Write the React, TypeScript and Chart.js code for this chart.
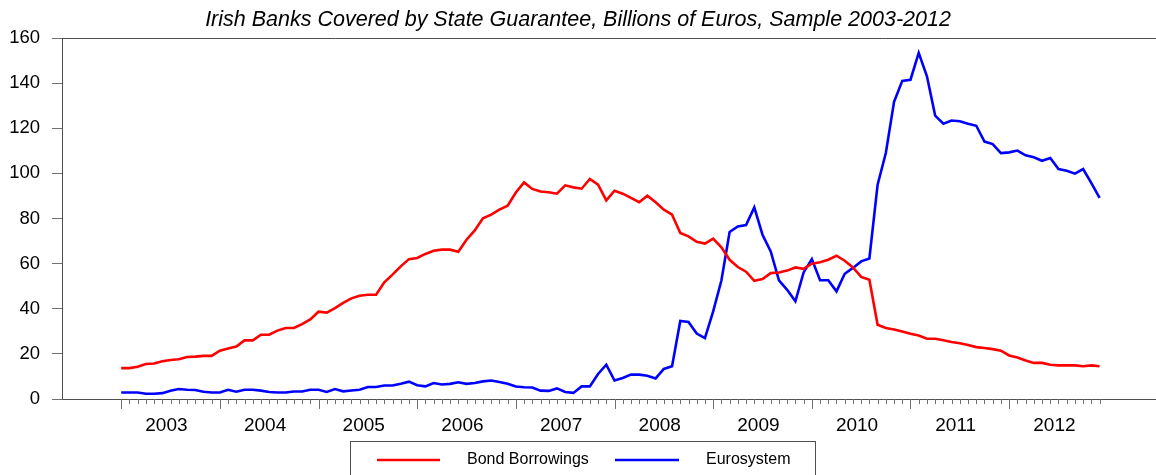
import React, { useEffect, useRef } from "react";
import { Chart, registerables } from "chart.js";

Chart.register(...registerables);

// Monthly observations, Jan 2003 .. Dec 2012 (billions of euros)
const yearLabels = ["2003", "2004", "2005", "2006", "2007", "2008", "2009", "2010", "2011", "2012"];

const bondBorrowings = [
  13.7, 13.7, 14.3, 15.5, 15.7, 16.7, 17.3, 17.6, 18.6, 18.8, 19.1, 19.1,
  21.4, 22.4, 23.3, 26.0, 26.0, 28.5, 28.5, 30.3, 31.5, 31.5, 33.2, 35.3,
  38.7, 38.3, 40.3, 42.6, 44.6, 45.8, 46.2, 46.2, 51.7, 55.1, 58.8, 62.0,
  62.5, 64.3, 65.7, 66.2, 66.2, 65.3, 70.6, 74.7, 80.1, 81.7, 83.9, 85.7,
  91.5, 96.0, 93.1, 92.0, 91.6, 91.0, 94.7, 93.8, 93.2, 97.5, 95.0, 88.0,
  92.3, 91.0, 89.1, 87.2, 90.1, 87.2, 83.9, 81.7, 73.6, 72.1, 69.7, 68.9,
  71.1, 67.2, 61.7, 58.5, 56.4, 52.4, 53.2, 55.8, 56.1, 56.9, 58.3, 57.7,
  60.0, 60.6, 61.7, 63.5, 61.3, 58.3, 54.1, 52.9, 32.9, 31.5, 30.8, 29.9,
  28.9, 28.1, 26.7, 26.7, 26.0, 25.3, 24.7, 23.9, 23.0, 22.6, 22.1, 21.4,
  19.3, 18.4, 17.1, 16.0, 16.0, 15.2, 14.9, 14.9, 14.9, 14.5, 14.9, 14.5,
];

const eurosystem = [
  2.9, 2.9, 2.9, 2.3, 2.3, 2.6, 3.7, 4.4, 4.1, 4.0, 3.2, 2.9,
  2.9, 4.1, 3.2, 4.1, 4.1, 3.7, 3.1, 2.9, 2.9, 3.3, 3.3, 4.1,
  4.1, 3.1, 4.4, 3.4, 3.8, 4.1, 5.3, 5.3, 6.0, 6.0, 6.8, 7.7,
  6.1, 5.6, 7.1, 6.4, 6.7, 7.4, 6.7, 7.1, 7.8, 8.2, 7.5, 6.8,
  5.5, 5.2, 5.1, 3.7, 3.6, 4.7, 3.1, 2.7, 5.6, 5.6, 11.1, 15.2,
  8.2, 9.3, 10.8, 10.8, 10.3, 9.1, 13.3, 14.5, 34.6, 34.1, 29.0, 27.0,
  38.8, 52.5, 74.0, 76.5, 77.1, 84.9, 72.8, 65.4, 52.6, 48.4, 43.3, 56.1,
  62.0, 52.6, 52.6, 47.7, 55.5, 58.1, 61.0, 62.3, 95.0, 109.0, 131.7, 141.0,
  141.5, 153.4, 143.0, 125.6, 122.0, 123.4, 123.1, 122.0, 121.1, 114.1, 113.0, 109.0,
  109.3, 110.1, 108.0, 107.1, 105.6, 106.8, 101.9, 101.2, 99.9, 101.9, 95.7, 89.1,
];

const seriesNames = ["Bond Borrowings", "Eurosystem"];
const yTicks = [0, 20, 40, 60, 80, 100, 120, 140, 160];
const titleText = "Irish Banks Covered by State Guarantee, Billions of Euros, Sample 2003-2012";

const FONT = "'Liberation Sans', Arial, Helvetica, sans-serif";
const AXIS_COLOR = "#505050";
const TICK_COLOR = "#707070";

const decorPlugin = {
  id: "decor",
  afterDraw(chart: any) {
    const { ctx, chartArea, scales } = chart;
    const xs = scales.x;
    ctx.save();
    ctx.lineWidth = 1;
    // top frame line
    ctx.strokeStyle = AXIS_COLOR;
    ctx.beginPath();
    ctx.moveTo(chartArea.left, Math.round(chartArea.top) + 0.5);
    ctx.lineTo(chartArea.right, Math.round(chartArea.top) + 0.5);
    ctx.stroke();
    // monthly tick marks (long at January)
    ctx.strokeStyle = TICK_COLOR;
    const n = bondBorrowings.length;
    for (let i = 0; i < n; i++) {
      const px = Math.round(xs.getPixelForValue(i)) + 0.5;
      const len = i % 12 === 0 ? 10 : 5;
      ctx.beginPath();
      ctx.moveTo(px, chartArea.bottom);
      ctx.lineTo(px, chartArea.bottom + len);
      ctx.stroke();
    }
    // boxed legend
    const boxLeft = 350.5;
    const boxTop = 441.5;
    const boxW = 465;
    ctx.strokeStyle = AXIS_COLOR;
    ctx.strokeRect(boxLeft, boxTop, boxW, 45);
    const items = [
      { x1: 377, x2: 440, tx: 467 },
      { x1: 615, x2: 679, tx: 706 },
    ];
    const ly = 460;
    ctx.font = `16px ${FONT}`;
    ctx.textBaseline = "middle";
    ctx.textAlign = "left";
    chart.data.datasets.forEach((ds: any, k: number) => {
      const it = items[k];
      ctx.strokeStyle = ds.borderColor;
      ctx.lineWidth = ds.borderWidth;
      ctx.beginPath();
      ctx.moveTo(it.x1, ly);
      ctx.lineTo(it.x2, ly);
      ctx.stroke();
      ctx.fillStyle = "#000";
      ctx.fillText(ds.label, it.tx, ly);
    });
    ctx.restore();
  },
};

export default function App() {
  const ref = useRef<HTMLCanvasElement>(null);

  useEffect(() => {
    if (!ref.current) return;
    const chart = new Chart(ref.current, {
      type: "line",
      data: {
        datasets: [
          {
            label: seriesNames[0],
            data: bondBorrowings.map((v, i) => ({ x: i, y: v })),
            borderColor: "#ff0000",
            backgroundColor: "#ff0000",
            borderWidth: 2.6,
            pointRadius: 0,
            tension: 0,
            fill: false,
          },
          {
            label: seriesNames[1],
            data: eurosystem.map((v, i) => ({ x: i, y: v })),
            borderColor: "#0000ff",
            backgroundColor: "#0000ff",
            borderWidth: 2.6,
            pointRadius: 0,
            tension: 0,
            fill: false,
          },
        ],
      },
      options: {
        animation: false,
        responsive: false,
        layout: { padding: 0 },
        plugins: {
          legend: { display: false },
          tooltip: { enabled: false },
          title: {
            display: true,
            text: titleText,
            color: "#000",
            font: { family: FONT, size: 21.5, style: "italic", weight: "normal" },
            padding: { top: 7, bottom: 5.2 },
          },
        },
        scales: {
          x: {
            type: "linear",
            min: -7.2,
            max: 125.86,
            afterBuildTicks: (scale: any) => {
              scale.ticks = yearLabels.map((_, k) => ({ value: k * 12 + 5.5 }));
            },
            afterFit: (scale: any) => {
              scale.height = 76;
            },
            grid: { display: false, drawTicks: false },
            border: { display: true, color: AXIS_COLOR, width: 1 },
            ticks: {
              autoSkip: false,
              maxRotation: 0,
              minRotation: 0,
              padding: 15,
              color: "#000",
              font: { family: FONT, size: 19 },
              callback: (_v: any, idx: number) => yearLabels[idx],
            },
          },
          y: {
            type: "linear",
            min: 0,
            max: 160,
            afterBuildTicks: (scale: any) => {
              scale.ticks = yTicks.map((v) => ({ value: v }));
            },
            afterFit: (scale: any) => {
              scale.width = 62;
            },
            grid: {
              display: true,
              drawOnChartArea: false,
              drawTicks: true,
              tickLength: 10,
              color: TICK_COLOR,
            },
            border: { display: true, color: AXIS_COLOR, width: 1 },
            ticks: {
              padding: 12,
              color: "#000",
              font: { family: FONT, size: 18.5 },
            },
          },
        },
      },
      plugins: [decorPlugin],
    });
    return () => chart.destroy();
  }, []);

  return (
    <div style={{ position: "fixed", left: 0, top: 0, width: 1156, height: 475, background: "#fff" }}>
      <canvas ref={ref} width={1156} height={475} style={{ display: "block" }} />
    </div>
  );
}
